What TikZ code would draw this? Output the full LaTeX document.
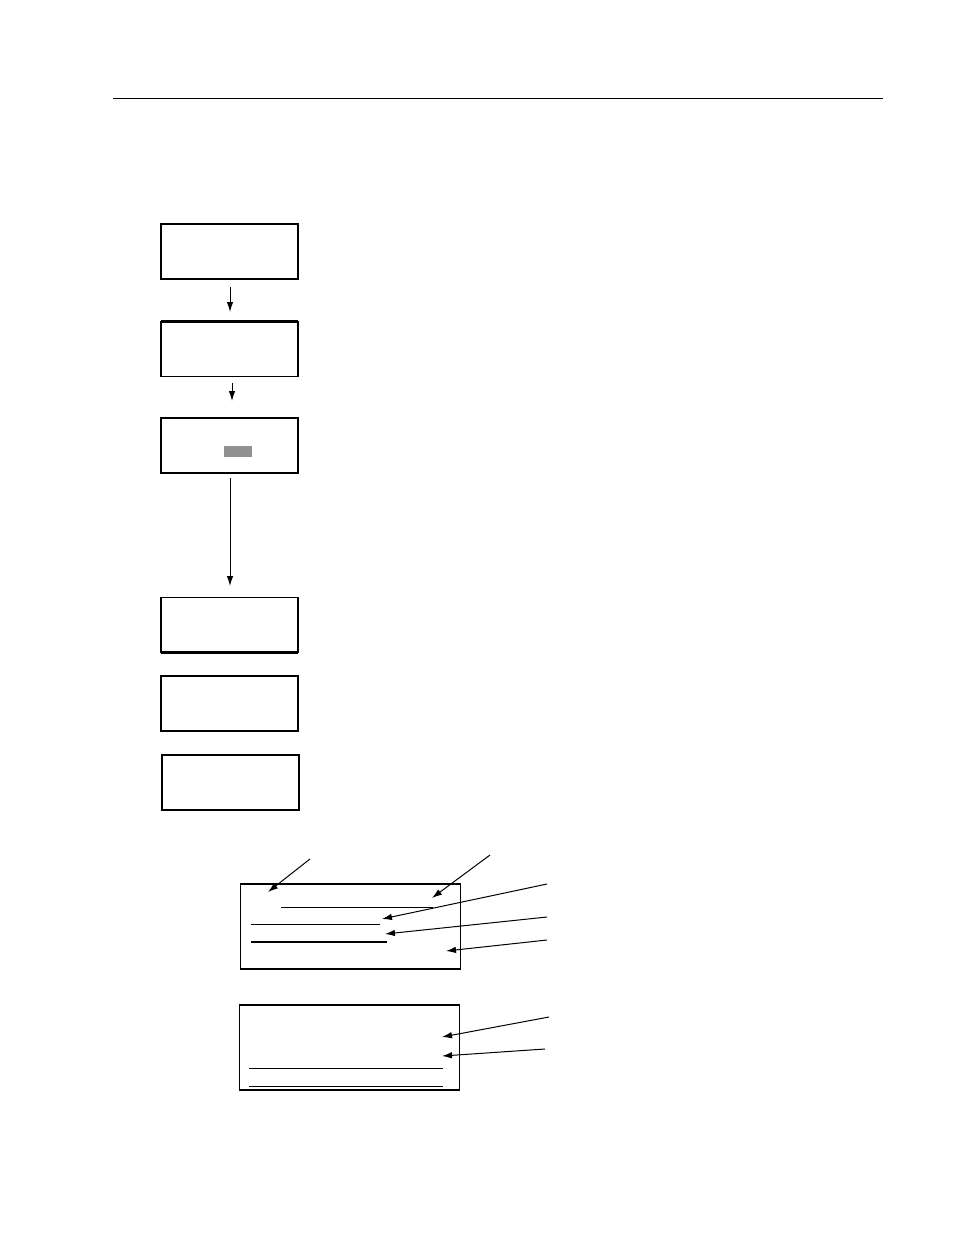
\documentclass[tikz,border=0pt]{standalone}
\usetikzlibrary{arrows.meta}
\begin{document}
\begin{tikzpicture}[x=1pt,y=-1pt,
  boxnode/.style={draw,line width=1.1pt,minimum width=137pt,minimum height=55pt,inner sep=0pt,outer sep=0pt,anchor=north west},
  bigbox/.style={draw,line width=1.1pt,inner sep=0pt,outer sep=0pt},
  conn/.style={line width=1pt,-{Latex[length=10pt,width=6.5pt]}},
  rule/.style={line width=0.9pt},
  thickrule/.style={line width=2.4pt}]
\useasboundingbox (0,0) rectangle (954,1235);
% header line
\coordinate (hl) at (113,98); \coordinate (hr) at (883,98);
\draw[line width=0.9pt] (hl) -- (hr);
% flow boxes
\node[boxnode] (b1) at (161,224) {};
\node[boxnode] (b2) at (161,321.5) {};
\node[boxnode] (b3) at (161,418) {};
\node[boxnode] (b4) at (161,597.5) {};
\node[boxnode] (b5) at (161,676) {};
\node[boxnode] (b6) at (162,755) {};
\draw[thickrule] (b2.north west) -- (b2.north east);
\draw[thickrule] (b4.south west) -- (b4.south east);
\node[fill=gray!85!black,opacity=0.75,minimum width=28pt,minimum height=10.5pt,inner sep=0pt,anchor=north west] (g3) at (224,446) {};
% flow arrows
\coordinate (a1s) at (230,287); \coordinate (a1e) at (230,312);
\coordinate (a2s) at (232,383); \coordinate (a2e) at (232,401);
\coordinate (a3s) at (230,478); \coordinate (a3e) at (230,586);
\draw[conn] (a1s) -- (a1e);
\draw[conn] (a2s) -- (a2e);
\draw[conn] (a3s) -- (a3e);
% lower box A
\node[bigbox,minimum width=220pt,minimum height=85pt,anchor=north west] (A) at (240.5,884) {};
\coordinate (l1a) at (281,907); \coordinate (l1b) at (433,907);
\coordinate (l2a) at (251,924); \coordinate (l2b) at (380,924);
\coordinate (l3a) at (251,942); \coordinate (l3b) at (387,942);
\draw[rule] (l1a) -- (l1b);
\draw[rule] (l2a) -- (l2b);
\draw[thickrule,line width=2pt] (l3a) -- (l3b);
\coordinate (p1s) at (310,859); \coordinate (p1e) at (268,892);
\coordinate (p2s) at (490,855); \coordinate (p2e) at (432,898);
\coordinate (p3s) at (547,884); \coordinate (p3e) at (382,919);
\coordinate (p4s) at (547,917); \coordinate (p4e) at (385,934);
\coordinate (p5s) at (547,940); \coordinate (p5e) at (446,951);
\draw[conn] (p1s) -- (p1e);
\draw[conn] (p2s) -- (p2e);
\draw[conn] (p3s) -- (p3e);
\draw[conn] (p4s) -- (p4e);
\draw[conn] (p5s) -- (p5e);
% lower box B
\node[bigbox,minimum width=220pt,minimum height=85pt,anchor=north west] (B) at (239.5,1005) {};
\coordinate (m1a) at (249,1068); \coordinate (m1b) at (443,1068);
\coordinate (m2a) at (249,1086); \coordinate (m2b) at (443,1086);
\draw[rule] (m1a) -- (m1b);
\draw[rule] (m2a) -- (m2b);
\coordinate (q1s) at (549,1017); \coordinate (q1e) at (442,1037);
\coordinate (q2s) at (545,1049); \coordinate (q2e) at (442,1056);
\draw[conn] (q1s) -- (q1e);
\draw[conn] (q2s) -- (q2e);
\end{tikzpicture}
\end{document}
